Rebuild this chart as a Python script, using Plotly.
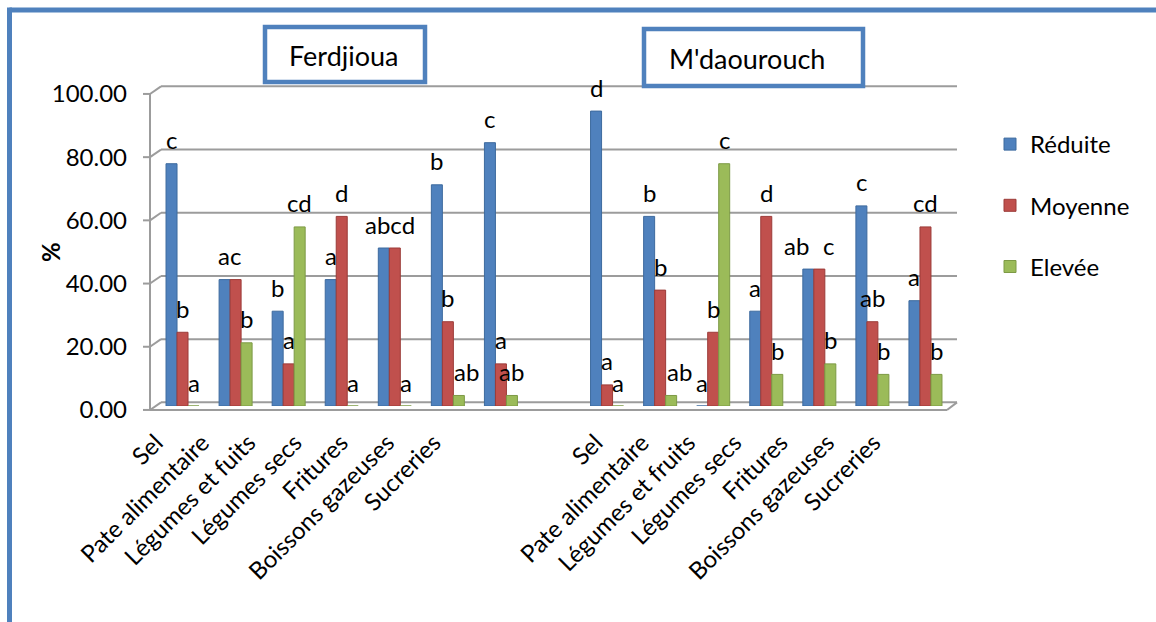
import plotly.graph_objects as go

# ---- data -------------------------------------------------------------
foods_ferdjioua = ["Sel", "Pate alimentaire", "Légumes et fuits", "Légumes secs",
                   "Fritures", "Boissons gazeuses", "Sucreries"]
foods_mdaourouch = ["Sel", "Pate alimentaire", "Légumes et fruits", "Légumes secs",
                    "Fritures", "Boissons gazeuses", "Sucreries"]
regions = ["Ferdjioua", "M'daourouch"]
series_names = ["Réduite", "Moyenne", "Elevée"]

ferdjioua_reduite = [76.67, 40.00, 30.00, 40.00, 50.00, 70.00, 83.33]
ferdjioua_moyenne = [23.33, 40.00, 13.33, 60.00, 50.00, 26.67, 13.33]
ferdjioua_elevee = [0.00, 20.00, 56.67, 0.00, 0.00, 3.33, 3.33]

mdaourouch_reduite = [93.33, 60.00, 0.00, 30.00, 43.33, 63.33, 33.33]
mdaourouch_moyenne = [6.67, 36.67, 23.33, 60.00, 43.33, 26.67, 56.67]
mdaourouch_elevee = [0.00, 3.33, 76.67, 10.00, 13.33, 10.00, 10.00]

# significance letters (same order as the values)
ferdjioua_letters_reduite = ["c", "ac", "b", "a", "abcd", "b", "c"]
ferdjioua_letters_moyenne = ["b", "", "a", "d", "", "b", "a"]
ferdjioua_letters_elevee = ["a", "b", "cd", "a", "a", "ab", "ab"]
mdaourouch_letters_reduite = ["d", "b", "a", "a", "ab", "c", "a"]
mdaourouch_letters_moyenne = ["a", "b", "b", "d", "c", "ab", "cd"]
mdaourouch_letters_elevee = ["a", "ab", "c", "b", "b", "b", "b"]

y_ticks = [0, 20, 40, 60, 80, 100]

# ---- layout constants ---------------------------------------------------
W, H = 1156, 622
ML, MR, MT, MB = 156, 204, 90, 216
PW, PH = W - ML - MR, H - MT - MB
Y_MAX = 100
FONT = "Lato"
TXT = "#000000"
GRID = "#9c9c9c"
FRAME_BLUE = "#4f81bd"
colors = ["#4f81bd", "#c0504d", "#9bbb59"]
edges = ["#3d6a9e", "#9c3b38", "#7d9a45"]

BARGAP = 0.378
BAR_W = (1 - BARGAP) / 3
BACK_DY = 1.15     # back wall of the 3-D box, in axis units
FRONT_DY = -1.25   # front edge of the 3-D box, in axis units


def xp(px):
    return (px - ML) / PW


def yp_val(v):
    return v / Y_MAX


def yp_px(py):
    return (H - MB - py) / PH


# category positions: the two regions separated by one empty slot
n = len(foods_ferdjioua)
x_pos = list(range(n)) + list(range(n + 1, 2 * n + 1))
values = [ferdjioua_reduite + mdaourouch_reduite,
          ferdjioua_moyenne + mdaourouch_moyenne,
          ferdjioua_elevee + mdaourouch_elevee]
letters = [ferdjioua_letters_reduite + mdaourouch_letters_reduite,
           ferdjioua_letters_moyenne + mdaourouch_letters_moyenne,
           ferdjioua_letters_elevee + mdaourouch_letters_elevee]

# small horizontal nudges (px) for letters that would otherwise collide;
# keys are (series, position in the combined list)
letter_nudge = {(0, 1): 5, (0, 4): 6, (2, 5): 8, (2, 8): 8,
                (0, 11): -12, (1, 11): 9}

# category labels sit on the front edge of the box, slightly compressed
LABEL_STEP = 0.8724
LABEL_START = -0.425
tick_vals = [LABEL_START + LABEL_STEP * k for k in range(n)] + \
            [LABEL_START + LABEL_STEP * (k + n + 2.5) for k in range(n)]
tick_text = foods_ferdjioua + foods_mdaourouch

fig = go.Figure()
for j, name in enumerate(series_names):
    fig.add_trace(go.Bar(
        x=x_pos, y=values[j], name=name,
        marker=dict(color=colors[j], line=dict(color=edges[j], width=1)),
        legendgroup=name,
    ))

# letters above each bar
annotations = []
for j in range(3):
    off = (j - 1) * BAR_W
    for i, (xi, v, t) in enumerate(zip(x_pos, values[j], letters[j])):
        if not t:
            continue
        annotations.append(dict(
            x=xi + off, y=v, xref="x", yref="y", text=t, showarrow=False,
            yshift=24, xshift=letter_nudge.get((j, i), 0),
            xanchor="center", yanchor="middle",
            font=dict(family=FONT, size=24, color=TXT)))

# region titles in framed boxes
title_boxes = [(265, 27, 425, 82, 287), (644, 29, 863, 86, 667)]
shapes = []
for (bx0, by0, bx1, by1, tx), label in zip(title_boxes, regions):
    shapes.append(dict(type="rect", xref="paper", yref="paper",
                       x0=xp(bx0), x1=xp(bx1), y0=yp_px(by1), y1=yp_px(by0),
                       line=dict(color=FRAME_BLUE, width=4.5),
                       fillcolor="white", layer="above"))
    annotations.append(dict(x=xp(tx), y=yp_px((by0 + by1) / 2 + 1),
                            xref="paper", yref="paper", text=label,
                            showarrow=False, xanchor="left", yanchor="middle",
                            font=dict(family=FONT, size=27, color=TXT)))

# y-axis title
annotations.append(dict(x=xp(50), y=yp_px(252), xref="paper", yref="paper",
                        text="<b>%</b>", showarrow=False, textangle=-90,
                        xanchor="center", yanchor="middle",
                        font=dict(family=FONT, size=24, color=TXT)))

# 3-D style box: back wall gridlines, front axis, floor
X_FRONT, X_BACK, X_TICK = 150, 161, 143
X_BACK_END, X_FRONT_END = 957, 947
for k in y_ticks:
    yb = yp_val(k + BACK_DY)
    yf = yp_val(k + FRONT_DY)
    line = dict(color=GRID, width=2)
    shapes.append(dict(type="line", xref="paper", yref="paper", layer="below",
                       x0=xp(X_BACK), x1=xp(X_BACK_END), y0=yb, y1=yb, line=line))
    shapes.append(dict(type="line", xref="paper", yref="paper", layer="below",
                       x0=xp(X_FRONT), x1=xp(X_BACK), y0=yf, y1=yb, line=line))
    shapes.append(dict(type="line", xref="paper", yref="paper", layer="below",
                       x0=xp(X_TICK), x1=xp(X_FRONT), y0=yf, y1=yf, line=line))
shapes.append(dict(type="line", xref="paper", yref="paper", layer="below",
                   x0=xp(X_FRONT), x1=xp(X_FRONT),
                   y0=yp_val(FRONT_DY), y1=yp_val(Y_MAX + FRONT_DY),
                   line=dict(color=GRID, width=2)))
shapes.append(dict(type="line", xref="paper", yref="paper", layer="below",
                   x0=xp(X_FRONT), x1=xp(X_FRONT_END),
                   y0=yp_val(FRONT_DY), y1=yp_val(FRONT_DY),
                   line=dict(color=GRID, width=2)))
shapes.append(dict(type="line", xref="paper", yref="paper", layer="below",
                   x0=xp(X_FRONT_END), x1=xp(X_BACK_END),
                   y0=yp_val(FRONT_DY), y1=yp_val(BACK_DY),
                   line=dict(color=GRID, width=2)))

# outer frame (top and left edges)
shapes.append(dict(type="line", xref="paper", yref="paper", layer="above",
                   x0=xp(9.5), x1=xp(W + 5), y0=yp_px(10), y1=yp_px(10),
                   line=dict(color=FRAME_BLUE, width=5)))
shapes.append(dict(type="line", xref="paper", yref="paper", layer="above",
                   x0=xp(9.5), x1=xp(9.5), y0=yp_px(7.5), y1=yp_px(H + 5),
                   line=dict(color=FRAME_BLUE, width=5)))

fig.update_layout(
    width=W, height=H,
    margin=dict(l=ML, r=MR, t=MT, b=MB, pad=0),
    paper_bgcolor="white", plot_bgcolor="rgba(0,0,0,0)",
    barmode="group", bargap=BARGAP, bargroupgap=0,
    font=dict(family=FONT, size=24, color=TXT),
    showlegend=True,
    legend=dict(x=xp(990), y=yp_px(122), xanchor="left", yanchor="top",
                font=dict(family=FONT, size=24, color=TXT),
                tracegroupgap=27, bgcolor="rgba(0,0,0,0)", borderwidth=0,
                itemwidth=30),
    xaxis=dict(range=[-0.5, 2 * n + 0.5], tickmode="array",
               tickvals=tick_vals, ticktext=tick_text, tickangle=-45,
               showgrid=False, zeroline=False, showline=False, ticks="",
               ticklabelstandoff=17, ticklabelshift=-4,
               tickfont=dict(family=FONT, size=24, color=TXT)),
    yaxis=dict(range=[0, Y_MAX], tickmode="array", tickvals=y_ticks,
               ticktext=[f"{v:.2f}" for v in y_ticks],
               showgrid=False, zeroline=False, showline=False, ticks="",
               ticklabelstandoff=28, ticklabelshift=4,
               tickfont=dict(family=FONT, size=24, color=TXT)),
    shapes=shapes, annotations=annotations,
)

fig.write_html("out.html")
